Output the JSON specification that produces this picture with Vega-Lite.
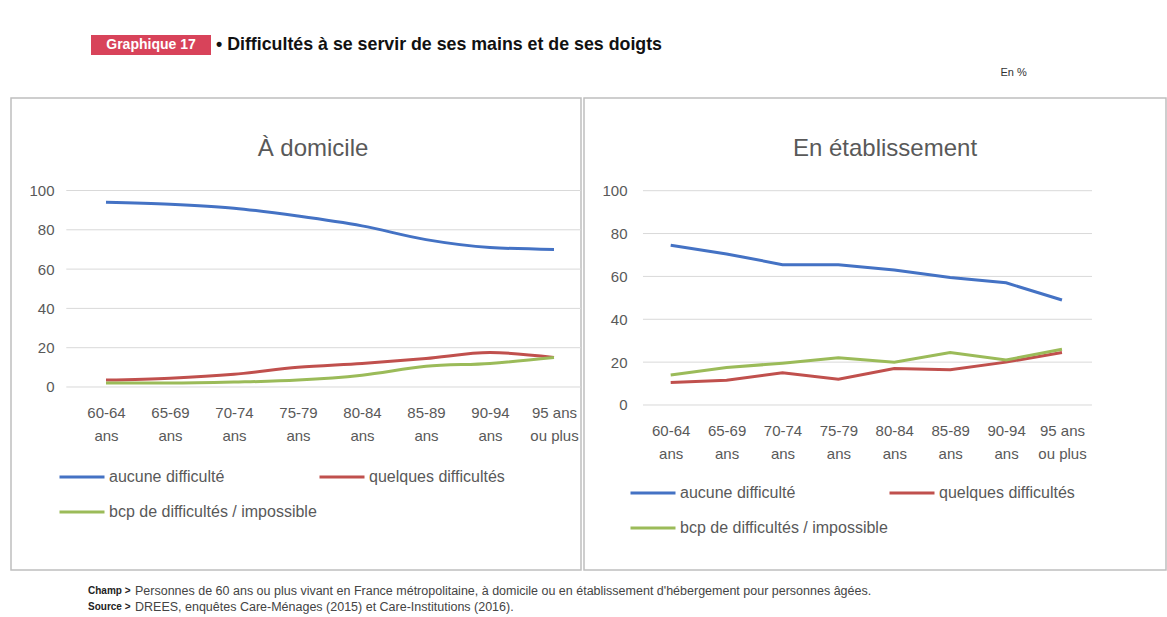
{
  "$schema": "https://vega.github.io/schema/vega-lite/v6.json",
  "background": "white",
  "padding": {"left": 10, "top": 35, "right": 5, "bottom": 5},
  "spacing": 12,
  "config": {
    "font": "Liberation Sans",
    "view": {"stroke": null},
    "title": {"fontWeight": "normal"}
  },
  "datasets": {
    "series": [
      {"panel": "À domicile", "i": 0, "age": "60-64 ans", "serie": "aucune difficulté", "value": 94},
      {"panel": "À domicile", "i": 1, "age": "65-69 ans", "serie": "aucune difficulté", "value": 93},
      {"panel": "À domicile", "i": 2, "age": "70-74 ans", "serie": "aucune difficulté", "value": 91},
      {"panel": "À domicile", "i": 3, "age": "75-79 ans", "serie": "aucune difficulté", "value": 87},
      {"panel": "À domicile", "i": 4, "age": "80-84 ans", "serie": "aucune difficulté", "value": 82},
      {"panel": "À domicile", "i": 5, "age": "85-89 ans", "serie": "aucune difficulté", "value": 75},
      {"panel": "À domicile", "i": 6, "age": "90-94 ans", "serie": "aucune difficulté", "value": 71},
      {"panel": "À domicile", "i": 7, "age": "95 ans ou plus", "serie": "aucune difficulté", "value": 70},
      {"panel": "À domicile", "i": 0, "age": "60-64 ans", "serie": "quelques difficultés", "value": 3.5},
      {"panel": "À domicile", "i": 1, "age": "65-69 ans", "serie": "quelques difficultés", "value": 4.5},
      {"panel": "À domicile", "i": 2, "age": "70-74 ans", "serie": "quelques difficultés", "value": 6.5},
      {"panel": "À domicile", "i": 3, "age": "75-79 ans", "serie": "quelques difficultés", "value": 10},
      {"panel": "À domicile", "i": 4, "age": "80-84 ans", "serie": "quelques difficultés", "value": 12},
      {"panel": "À domicile", "i": 5, "age": "85-89 ans", "serie": "quelques difficultés", "value": 14.5},
      {"panel": "À domicile", "i": 6, "age": "90-94 ans", "serie": "quelques difficultés", "value": 17.5},
      {"panel": "À domicile", "i": 7, "age": "95 ans ou plus", "serie": "quelques difficultés", "value": 15},
      {"panel": "À domicile", "i": 0, "age": "60-64 ans", "serie": "bcp de difficultés / impossible", "value": 2},
      {"panel": "À domicile", "i": 1, "age": "65-69 ans", "serie": "bcp de difficultés / impossible", "value": 2},
      {"panel": "À domicile", "i": 2, "age": "70-74 ans", "serie": "bcp de difficultés / impossible", "value": 2.5},
      {"panel": "À domicile", "i": 3, "age": "75-79 ans", "serie": "bcp de difficultés / impossible", "value": 3.5},
      {"panel": "À domicile", "i": 4, "age": "80-84 ans", "serie": "bcp de difficultés / impossible", "value": 6},
      {"panel": "À domicile", "i": 5, "age": "85-89 ans", "serie": "bcp de difficultés / impossible", "value": 10.5},
      {"panel": "À domicile", "i": 6, "age": "90-94 ans", "serie": "bcp de difficultés / impossible", "value": 12},
      {"panel": "À domicile", "i": 7, "age": "95 ans ou plus", "serie": "bcp de difficultés / impossible", "value": 15},
      {"panel": "En établissement", "i": 0, "age": "60-64 ans", "serie": "aucune difficulté", "value": 74.5},
      {"panel": "En établissement", "i": 1, "age": "65-69 ans", "serie": "aucune difficulté", "value": 70.5},
      {"panel": "En établissement", "i": 2, "age": "70-74 ans", "serie": "aucune difficulté", "value": 65.5},
      {"panel": "En établissement", "i": 3, "age": "75-79 ans", "serie": "aucune difficulté", "value": 65.5},
      {"panel": "En établissement", "i": 4, "age": "80-84 ans", "serie": "aucune difficulté", "value": 63},
      {"panel": "En établissement", "i": 5, "age": "85-89 ans", "serie": "aucune difficulté", "value": 59.5},
      {"panel": "En établissement", "i": 6, "age": "90-94 ans", "serie": "aucune difficulté", "value": 57},
      {"panel": "En établissement", "i": 7, "age": "95 ans ou plus", "serie": "aucune difficulté", "value": 49},
      {"panel": "En établissement", "i": 0, "age": "60-64 ans", "serie": "quelques difficultés", "value": 10.5},
      {"panel": "En établissement", "i": 1, "age": "65-69 ans", "serie": "quelques difficultés", "value": 11.5},
      {"panel": "En établissement", "i": 2, "age": "70-74 ans", "serie": "quelques difficultés", "value": 15},
      {"panel": "En établissement", "i": 3, "age": "75-79 ans", "serie": "quelques difficultés", "value": 12},
      {"panel": "En établissement", "i": 4, "age": "80-84 ans", "serie": "quelques difficultés", "value": 17},
      {"panel": "En établissement", "i": 5, "age": "85-89 ans", "serie": "quelques difficultés", "value": 16.5},
      {"panel": "En établissement", "i": 6, "age": "90-94 ans", "serie": "quelques difficultés", "value": 20},
      {"panel": "En établissement", "i": 7, "age": "95 ans ou plus", "serie": "quelques difficultés", "value": 24.5},
      {"panel": "En établissement", "i": 0, "age": "60-64 ans", "serie": "bcp de difficultés / impossible", "value": 14},
      {"panel": "En établissement", "i": 1, "age": "65-69 ans", "serie": "bcp de difficultés / impossible", "value": 17.5},
      {"panel": "En établissement", "i": 2, "age": "70-74 ans", "serie": "bcp de difficultés / impossible", "value": 19.5},
      {"panel": "En établissement", "i": 3, "age": "75-79 ans", "serie": "bcp de difficultés / impossible", "value": 22},
      {"panel": "En établissement", "i": 4, "age": "80-84 ans", "serie": "bcp de difficultés / impossible", "value": 20},
      {"panel": "En établissement", "i": 5, "age": "85-89 ans", "serie": "bcp de difficultés / impossible", "value": 24.5},
      {"panel": "En établissement", "i": 6, "age": "90-94 ans", "serie": "bcp de difficultés / impossible", "value": 21},
      {"panel": "En établissement", "i": 7, "age": "95 ans ou plus", "serie": "bcp de difficultés / impossible", "value": 26}
    ],
    "grid": [{"value": 0}, {"value": 20}, {"value": 40}, {"value": 60}, {"value": 80}, {"value": 100}]
  },
  "vconcat": [
    {
      "spacing": 4,
      "hconcat": [
        {"width": 76, "height": 20, "data": {"values": []}, "mark": "text"},
        {
          "width": 120, "height": 20,
          "view": {"fill": "#d8435a", "stroke": null},
          "data": {"values": [{"t": "Graphique 17"}]},
          "mark": {"type": "text", "color": "white", "fontWeight": "bold", "fontSize": 14},
          "encoding": {"text": {"field": "t"}}
        },
        {
          "width": 2, "height": 20,
          "data": {"values": [{"t": "• Difficultés à se servir de ses mains et de ses doigts"}]},
          "mark": {"type": "text", "align": "left", "color": "#111111", "fontWeight": "bold", "fontSize": 17.8},
          "encoding": {"text": {"field": "t"}}
        }
      ]
    },
    {
      "title": {"text": "En %", "anchor": "end", "fontSize": 11, "color": "#333333", "dx": -140, "offset": 19},
      "spacing": 0,
      "resolve": {"scale": {"color": "independent", "x": "independent", "y": "independent"}, "legend": {"color": "independent"}},
      "hconcat": [
        {
          "width": 570, "height": 472,
          "view": {"stroke": "#bfbfbf", "strokeWidth": 1.5, "fill": "white"},
          "title": {"text": "À domicile", "fontSize": 24, "color": "#595959", "offset": -63, "dx": 17},
          "layer": [
            {
              "data": {"name": "grid"},
              "mark": {"type": "rule", "color": "#d9d9d9", "strokeWidth": 1},
              "encoding": {
                "y": {"field": "value", "type": "quantitative", "scale": {"domain": [-93.13, 147.07], "nice": false, "zero": false}},
                "x": {"datum": -0.62, "type": "quantitative", "scale": {"domain": [-1.484, 7.422], "nice": false, "zero": false}},
                "x2": {"datum": 7.422}
              }
            },
            {
              "data": {"name": "series"},
              "transform": [{"filter": "datum.panel === 'À domicile'"}],
              "mark": {"type": "line", "strokeWidth": 3, "interpolate": "monotone"},
              "encoding": {
                "x": {
                  "field": "i", "type": "quantitative",
                  "scale": {"domain": [-1.484, 7.422], "nice": false, "zero": false},
                  "axis": {"values": [0, 1, 2, 3, 4, 5, 6, 7], "title": null, "domain": false, "ticks": false, "tickSize": 0, "grid": false, "offset": -167, "labelPadding": 2, "labelBaseline": "top", "labelFontSize": 15, "labelColor": "#595959", "labelLineHeight": 23, "labelFlush": false, "labelOverlap": false,
                    "labelExpr": "split(['60-64|ans','65-69|ans','70-74|ans','75-79|ans','80-84|ans','85-89|ans','90-94|ans','95 ans|ou plus'][datum.value], '|')"}
                },
                "y": {
                  "field": "value", "type": "quantitative",
                  "scale": {"domain": [-93.13, 147.07], "nice": false, "zero": false},
                  "axis": {"values": [0, 20, 40, 60, 80, 100], "title": null, "domain": false, "ticks": false, "tickSize": 0, "grid": false, "offset": -48, "labelPadding": 5, "labelFontSize": 15, "labelColor": "#595959"}
                },
                "color": {
                  "field": "serie", "type": "nominal",
                  "scale": {"domain": ["aucune difficulté", "quelques difficultés", "bcp de difficultés / impossible"], "range": ["#4472C4", "#C0504D", "#9BBB59"]},
                  "legend": {"orient": "none", "direction": "horizontal", "legendX": 47, "legendY": 355, "title": null, "columns": 2, "values": ["aucune difficulté", "quelques difficultés", "bcp de difficultés / impossible"], "symbolType": "stroke", "symbolSize": 2025, "symbolStrokeWidth": 3, "labelFontSize": 16, "labelColor": "#595959", "labelOffset": 3, "rowPadding": 3, "columnPadding": -4, "labelLimit": 400}
                }
              }
            }
          ]
        },
        {
          "width": 582, "height": 472,
          "view": {"stroke": "#bfbfbf", "strokeWidth": 1.5, "fill": "white"},
          "title": {"text": "En établissement", "fontSize": 24, "color": "#595959", "offset": -63, "dx": 10},
          "layer": [
            {
              "data": {"name": "grid"},
              "mark": {"type": "rule", "color": "#d9d9d9", "strokeWidth": 1},
              "encoding": {
                "y": {"field": "value", "type": "quantitative", "scale": {"domain": [-77.0, 143.26], "nice": false, "zero": false}},
                "x": {"datum": -0.496, "type": "quantitative", "scale": {"domain": [-1.551, 8.861], "nice": false, "zero": false}},
                "x2": {"datum": 7.537}
              }
            },
            {
              "data": {"name": "series"},
              "transform": [{"filter": "datum.panel === 'En établissement'"}],
              "mark": {"type": "line", "strokeWidth": 3},
              "encoding": {
                "x": {
                  "field": "i", "type": "quantitative",
                  "scale": {"domain": [-1.551, 8.861], "nice": false, "zero": false},
                  "axis": {"values": [0, 1, 2, 3, 4, 5, 6, 7], "title": null, "domain": false, "ticks": false, "tickSize": 0, "grid": false, "offset": -149, "labelPadding": 2, "labelBaseline": "top", "labelFontSize": 15, "labelColor": "#595959", "labelLineHeight": 23, "labelFlush": false, "labelOverlap": false,
                    "labelExpr": "split(['60-64|ans','65-69|ans','70-74|ans','75-79|ans','80-84|ans','85-89|ans','90-94|ans','95 ans|ou plus'][datum.value], '|')"}
                },
                "y": {
                  "field": "value", "type": "quantitative",
                  "scale": {"domain": [-77.0, 143.26], "nice": false, "zero": false},
                  "axis": {"values": [0, 20, 40, 60, 80, 100], "title": null, "domain": false, "ticks": false, "tickSize": 0, "grid": false, "offset": -48, "labelPadding": 5, "labelFontSize": 15, "labelColor": "#595959"}
                },
                "color": {
                  "field": "serie", "type": "nominal",
                  "scale": {"domain": ["aucune difficulté", "quelques difficultés", "bcp de difficultés / impossible"], "range": ["#4472C4", "#C0504D", "#9BBB59"]},
                  "legend": {"orient": "none", "direction": "horizontal", "legendX": 45, "legendY": 371, "title": null, "columns": 2, "values": ["aucune difficulté", "quelques difficultés", "bcp de difficultés / impossible"], "symbolType": "stroke", "symbolSize": 2025, "symbolStrokeWidth": 3, "labelFontSize": 16, "labelColor": "#595959", "labelOffset": 3, "rowPadding": 3, "columnPadding": -8, "labelLimit": 400}
                }
              }
            }
          ]
        }
      ]
    },
    {
      "spacing": 0,
      "hconcat": [
        {"width": 76, "height": 32, "data": {"values": []}, "mark": "text"},
        {
          "width": 2, "height": 32,
          "data": {"values": [
            {"line": 1, "k": "Champ >", "t": "Personnes de 60 ans ou plus vivant en France métropolitaine, à domicile ou en établissement d'hébergement pour personnes âgées."},
            {"line": 2, "k": "Source >", "t": "DREES, enquêtes Care-Ménages (2015) et Care-Institutions (2016)."}
          ]},
          "encoding": {"y": {"field": "line", "type": "ordinal", "axis": null}},
          "layer": [
            {"mark": {"type": "text", "align": "left", "fontWeight": "bold", "fontSize": 10, "color": "#222222"}, "encoding": {"text": {"field": "k"}}},
            {"mark": {"type": "text", "align": "left", "fontSize": 12.5, "color": "#444444", "dx": 47}, "encoding": {"text": {"field": "t"}}}
          ]
        }
      ]
    }
  ]
}
